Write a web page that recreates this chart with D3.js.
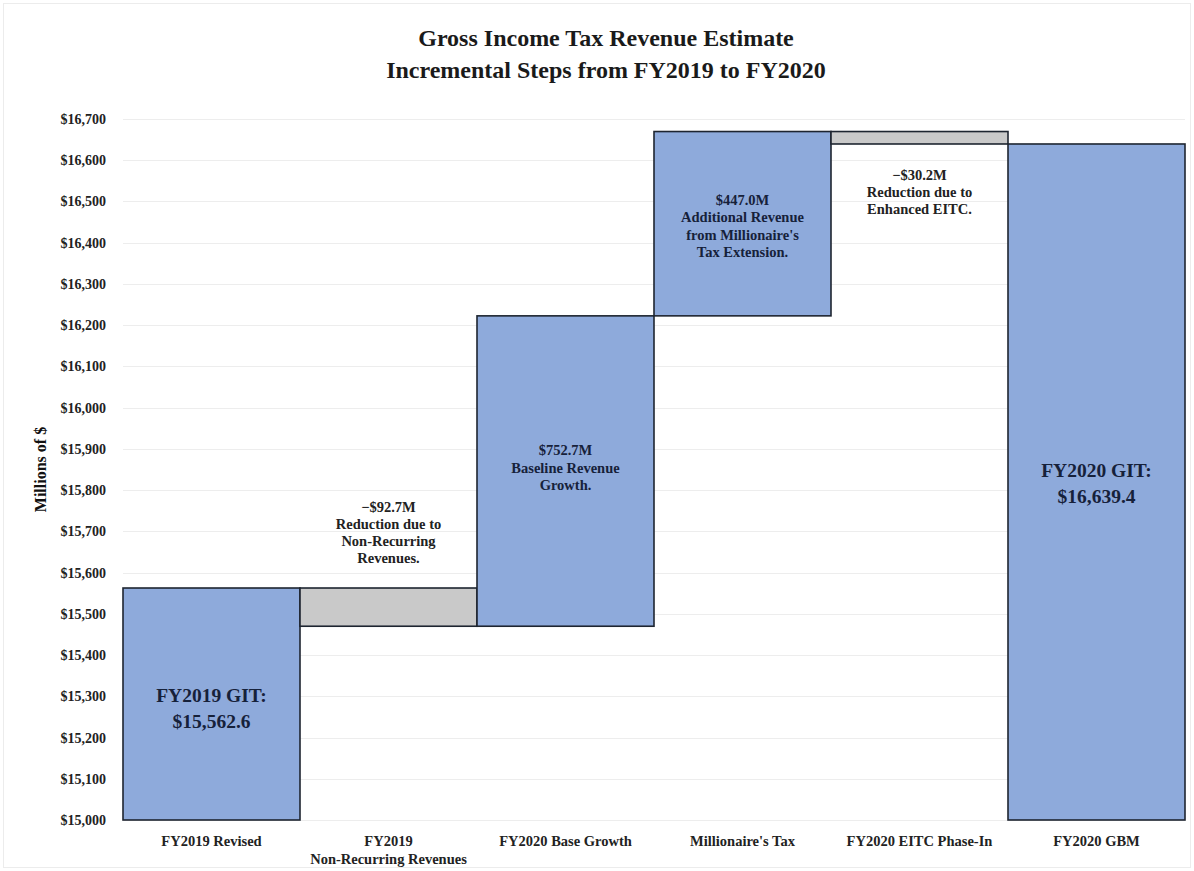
<!DOCTYPE html>
<html>
<head>
<meta charset="utf-8">
<script src="https://cdn.jsdelivr.net/npm/d3@7"></script>
<style>
  html, body { margin: 0; padding: 0; background: #fff; }
  svg { display: block; font-family: "Liberation Serif", "DejaVu Serif", serif; }
</style>
</head>
<body>
<svg id="chart" width="1194" height="871"></svg>
<script>
// Waterfall steps from FY2019 revised GIT to FY2020 GBM (millions of $)
const categories = ["FY2019 Revised", "FY2019 Non-Recurring Revenues", "FY2020 Base Growth",
                    "Millionaire's Tax", "FY2020 EITC Phase-In", "FY2020 GBM"];
const categoryLines = [["FY2019 Revised"], ["FY2019", "Non-Recurring Revenues"], ["FY2020 Base Growth"],
                       ["Millionaire's Tax"], ["FY2020 EITC Phase-In"], ["FY2020 GBM"]];
const stepKinds = ["total", "delta", "delta", "delta", "delta", "total"];
const stepValues = [15562.6, -92.7, 752.7, 447.0, -30.2, 16639.4];
const stepNotes = [
  ["FY2019 GIT:", "$15,562.6"],
  ["\u2212$92.7M", "Reduction due to", "Non-Recurring", "Revenues."],
  ["$752.7M", "Baseline Revenue", "Growth."],
  ["$447.0M", "Additional Revenue", "from Millionaire's", "Tax Extension."],
  ["\u2212$30.2M", "Reduction due to", "Enhanced EITC."],
  ["FY2020 GIT:", "$16,639.4"]
];
const yTicks = d3.range(15000, 16701, 100);
const titleLines = ["Gross Income Tax Revenue Estimate", "Incremental Steps from FY2019 to FY2020"];

// Build start/end of each waterfall bar
let running = 0;
const steps = categories.map((c, i) => {
  let start, end;
  if (stepKinds[i] === "total") { start = 15000; end = stepValues[i]; running = stepValues[i]; }
  else { start = running; end = running + stepValues[i]; running = end; }
  return { cat: c, kind: stepKinds[i], value: stepValues[i], start, end, note: stepNotes[i], lines: categoryLines[i] };
});

const svg = d3.select("#chart");
const W = 1194, H = 871;
const margin = { left: 123, right: 9, top: 119, bottom: 51 };

// faint page frame
svg.append("rect").attr("x", 3.5).attr("y", 3.5).attr("width", W - 7).attr("height", H - 7)
  .attr("fill", "none").attr("stroke", "#ececec").attr("stroke-width", 1);

const x = d3.scaleBand().domain(categories).range([margin.left, W - margin.right]).padding(0);
const y = d3.scaleLinear().domain([15000, 16700]).range([H - margin.bottom, margin.top]);

// gridlines
svg.append("g").selectAll("line").data(yTicks).join("line")
  .attr("x1", margin.left).attr("x2", W - margin.right)
  .attr("y1", d => Math.round(y(d)) + 0.5).attr("y2", d => Math.round(y(d)) + 0.5)
  .attr("stroke", "#ededed").attr("stroke-width", 1);

// y axis labels
const yAxis = d3.axisLeft(y).tickValues(yTicks).tickSize(0).tickPadding(17)
  .tickFormat(d => "$" + d3.format(",")(d));
const gy = svg.append("g").attr("transform", `translate(${margin.left},0)`).call(yAxis);
gy.select(".domain").remove();
gy.selectAll("text").attr("font-family", "Liberation Serif, serif").attr("font-size", 14)
  .attr("font-weight", "bold").attr("fill", "#222");

// y axis title
svg.append("text").attr("transform", `translate(46,${(y(15000) + y(16700)) / 2}) rotate(-90)`)
  .attr("text-anchor", "middle").attr("font-size", 16).attr("font-weight", "bold").attr("fill", "#111")
  .text("Millions of $");

// bars
svg.append("g").selectAll("rect").data(steps).join("rect")
  .attr("x", d => x(d.cat))
  .attr("width", x.bandwidth())
  .attr("y", d => y(Math.max(d.start, d.end)))
  .attr("height", d => Math.abs(y(d.start) - y(d.end)))
  .attr("fill", d => d.kind === "total" || d.value > 0 ? "#8eaadb" : "#c9c9c9")
  .attr("stroke", "#1e2530").attr("stroke-width", 1.6);

// x labels
const gx = svg.append("g");
steps.forEach(d => {
  const t = gx.append("text").attr("x", x(d.cat) + x.bandwidth() / 2).attr("y", H - margin.bottom + 26)
    .attr("text-anchor", "middle").attr("font-size", 14.5).attr("font-weight", "bold").attr("fill", "#222");
  d.lines.forEach((l, k) => t.append("tspan").attr("x", x(d.cat) + x.bandwidth() / 2).attr("dy", k ? 18 : 0).text(l));
});

// annotations
const notes = svg.append("g");
function drawNote(d, baseline, size, lh, color) {
  const t = notes.append("text").attr("text-anchor", "middle").attr("font-size", size)
    .attr("font-weight", "bold").attr("fill", color);
  d.note.forEach((l, k) => t.append("tspan").attr("x", x(d.cat) + x.bandwidth() / 2)
    .attr("y", baseline + k * lh).text(l));
}
const riseShift = { 2: 1.5, 3: 7.5 };
steps.forEach((d, i) => {
  const top = y(Math.max(d.start, d.end)), bot = y(Math.min(d.start, d.end));
  if (d.kind === "total") {
    drawNote(d, top + (bot - top) * 0.492, 19.5, 26, "#16213a");
  } else if (d.value > 0) {
    const mid = (top + bot) / 2;
    const n = d.note.length;
    drawNote(d, mid - (n - 1) * 17.5 / 2 + (riseShift[i] || 4), 14.5, 17.5, "#16213a");
  } else {
    // negative steps: label sits in the white space beside the grey bar
    drawNote(d, i === 1 ? top - 76 : top + 48.5, 14.5, 17, "#222");
  }
});

// title
const title = svg.append("text").attr("text-anchor", "middle").attr("font-size", 24)
  .attr("font-weight", "bold").attr("fill", "#1a1a1a");
titleLines.forEach((l, k) => title.append("tspan").attr("x", 606).attr("y", 46 + k * 32).text(l));
</script>
</body>
</html>
